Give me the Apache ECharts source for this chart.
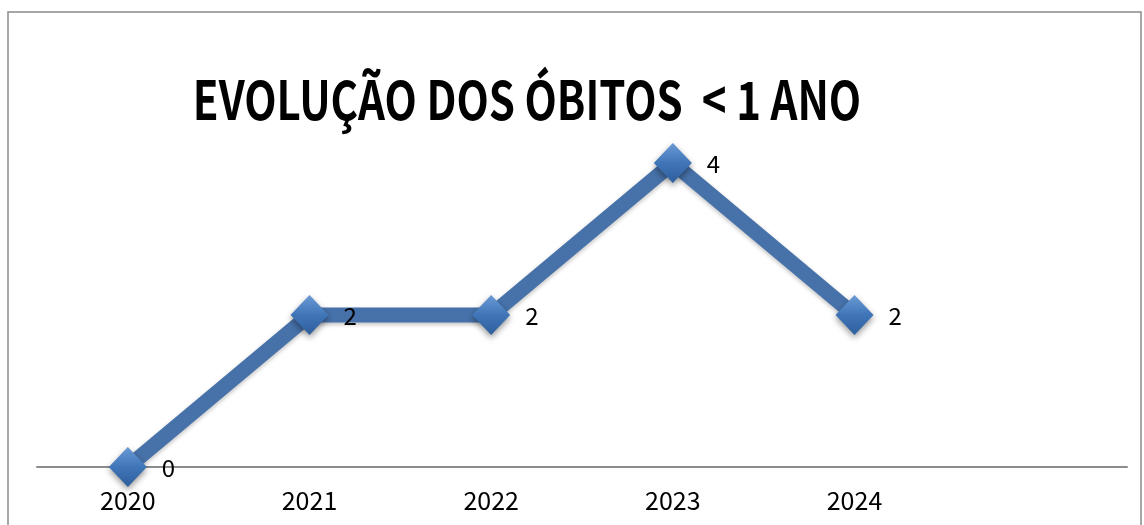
<!DOCTYPE html>
<html>
<head>
<meta charset="utf-8">
<script src="https://cdn.jsdelivr.net/npm/echarts@6/dist/echarts.min.js"></script>
<style>
  html, body { margin: 0; padding: 0; background: #fff; }
  #chart { width: 1144px; height: 525px; }
</style>
</head>
<body>
<div id="chart"></div>
<script>
// dados do gráfico
const anos = ["2020", "2021", "2022", "2023", "2024", ""];
const obitos = [0, 2, 2, 4, 2];
const titulo = "EVOLUÇÃO DOS ÓBITOS  < 1 ANO";

const fonte = "'Noto Sans CJK SC', 'Open Sans', sans-serif";

let myChart = echarts.init(document.getElementById("chart"));
let option = {
    animation: false,
    graphic: [
        // moldura do gráfico
        {
            type: "rect",
            shape: { x: 8, y: 12, width: 1133, height: 600 },
            style: { fill: "none", stroke: "#8a8a8a", lineWidth: 1.5 },
            silent: true,
        },
        // título (fonte estreita e alta como no original)
        {
            type: "text",
            x: 527,
            y: 100,
            scaleY: 1.27,
            style: {
                text: titulo,
                fontFamily: fonte,
                fontWeight: "bold",
                fontSize: 42,
                fill: "#000",
                align: "center",
                verticalAlign: "middle",
            },
            silent: true,
        },
    ],
    grid: {
        left: 37,
        right: 17,
        top: 11,
        bottom: 58,
    },
    xAxis: {
        type: "category",
        data: anos,
        boundaryGap: true,
        axisTick: { show: false },
        axisLine: {
            lineStyle: { color: "#8c8c8c", width: 2 },
        },
        axisLabel: {
            color: "#000",
            fontFamily: fonte,
            fontSize: 25,
            margin: 21,
        },
    },
    yAxis: {
        type: "value",
        min: 0,
        max: 6,
        show: false,
        splitLine: { show: false },
    },
    series: [
        {
            type: "line",
            data: obitos,
            symbol: "diamond",
            symbolSize: [38, 40],
            lineStyle: {
                color: "#4671a9",
                width: 15,
                shadowColor: "rgba(0,0,0,0.25)",
                shadowBlur: 4,
                shadowOffsetY: 2,
            },
            itemStyle: {
                color: new echarts.graphic.LinearGradient(0, 0, 0, 1, [
                    { offset: 0, color: "#6a9ad6" },
                    { offset: 0.5, color: "#3f75b8" },
                    { offset: 1, color: "#2f5f9c" },
                ]),
                shadowColor: "rgba(0,0,0,0.4)",
                shadowBlur: 6,
                shadowOffsetY: 3,
            },
            label: {
                show: true,
                position: "right",
                distance: 15,
                offset: [0, 1],
                color: "#000",
                fontFamily: fonte,
                fontSize: 24,
            },
        },
    ],
};
myChart.setOption(option);
window.addEventListener("resize", function () {
    myChart.resize();
});
</script>
</body>
</html>
